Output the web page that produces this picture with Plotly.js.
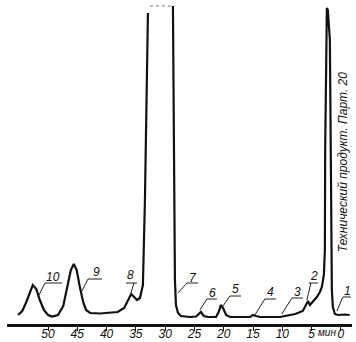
<!DOCTYPE html>
<html><head><meta charset="utf-8">
<script src="https://cdn.plot.ly/plotly-3.0.1.min.js"></script>
<style>html,body{margin:0;padding:0;background:#fff}#c{width:356px;height:342px}</style>
</head><body><div id="c"></div>
<script>
// retention time (min) and detector signal (arbitrary units)
const timeMin = [55.1,54.4,53.7,53.0,52.6,52.0,51.4,50.7,50.0,49.3,48.3,47.4,46.8,46.1,45.6,45.1,44.6,44.0,43.5,42.8,41.1,39.4,38.1,37.0,36.3,35.8,35.3,34.8,34.3,33.8,33.45,33.1,32.94,
  null,
  28.67,28.5,28.33,28.16,27.8,27.3,25.8,24.7,24.2,23.9,23.4,22.7,21.3,20.8,20.5,20.1,19.6,18.9,15.5,15.0,14.5,13.8,10.4,9.6,7.8,6.5,6.0,5.6,5.29,4.78,4.10,3.58,3.24,2.90,2.73,2.68,2.56,2.39,2.22,1.88,1.71,1.54,1.37,1.02,0.51,-0.7,-1.5];
const signal = [9,13,22,34,39,35,24,14,9,7.5,9,18,34,54,60,54,38,22,14,11,10.5,11,12,16,25,30,27,24,26,39,124,264,311,
  null,
  318,174,44,19,11,8,7,7.5,11,12,8,7,7,13,19,16,9,7,7,9,8,7,7,8,10,13,19,23,19,22,27,32,37,49,74,174,264,316,314,284,164,34,17,10,9,9.5,9];
// off-scale plateau of the main peak
const topTime = [32.6, 28.7];
const topSignal = [318, 318];

const tickVals = [50,45,40,35,30,25,20,15,10,5,0];
const tickText = ['50','45','40','35','30','25','20','15','10','5','0'];

// peak labels
const peakNames = ['10','9','8','7','6','5','4','3','2','1'];
const leadEndT  = [51.71,44.2,35.84,27.82,24.06,20.14,14.68,10.07,5.80,0.68];
const leadEndS  = [27,33,31,31,14,18,9,10,24,13];
const jointT    = [50.51,43.17,35.32,26.28,22.87,18.94,12.97,8.36,5.12,-0.34];
const jointS    = [41,45,41,41,25,28,25,26,41,27];
const ulLeftT   = [50.51,43.17,36.69,26.28,22.87,18.94,12.97,8.36,5.46,-0.34];
const ulRightT  = [47.61,40.78,34.81,24.4,21.16,17.06,11.09,6.48,3.92,-1.7];
const textT     = [49.15,41.8,35.84,25.26,21.84,17.92,11.95,7.34,4.61,-1.19];
const textS     = [47,52,49,46,31,35,32,32,48,33];

const sideTitle = 'Технический продукт. Парт. 20';
const unitLabel = 'мин';

const font = {family:'Liberation Sans, DejaVu Sans, sans-serif', style:'italic', color:'#111'};

const shapes = [];
const annotations = [];
for (let i=0;i<peakNames.length;i++){
  shapes.push({type:'path', xref:'x', yref:'y',
    path:`M${leadEndT[i]},${leadEndS[i]} L${jointT[i]},${jointS[i]}`,
    line:{color:'#222', width:1}});
  shapes.push({type:'line', xref:'x', yref:'y', x0:ulLeftT[i], x1:ulRightT[i], y0:jointS[i], y1:jointS[i],
    line:{color:'#222', width:1}});
  annotations.push({xref:'x', yref:'y', x:textT[i], y:textS[i], text:peakNames[i], showarrow:false,
    font:Object.assign({}, font, {size:12})});
}
annotations.push({xref:'x', yref:'paper', x:2.35, y:-0.028, yanchor:'middle', text:unitLabel, showarrow:false,
  font:Object.assign({}, font, {size:10})});
annotations.push({xref:'x', yref:'y', x:-0.4, y:162, text:sideTitle, textangle:-90, showarrow:false,
  font:Object.assign({}, font, {size:12})});

const traces = [
  {x:timeMin, y:signal, mode:'lines', line:{color:'#111', width:2.2}, hoverinfo:'skip', connectgaps:false},
  {x:topTime, y:topSignal, mode:'lines', line:{color:'#777', width:1, dash:'dot'}, hoverinfo:'skip'}
];

const layout = {
  width:356, height:342,
  margin:{l:7, r:4, t:4, b:18},
  paper_bgcolor:'#fff', plot_bgcolor:'#fff',
  showlegend:false,
  xaxis:{range:[57.0,-1.9], showgrid:false, zeroline:false, showline:true, linewidth:2.5, linecolor:'#111',
    ticks:'outside', ticklen:4, tickwidth:1, tickcolor:'#111', tickvals:tickVals, ticktext:tickText,
    ticklabelstandoff:-7,
    tickfont:Object.assign({}, font, {size:12}), fixedrange:true},
  yaxis:{range:[0,320], visible:false, fixedrange:true},
  shapes:shapes, annotations:annotations
};
Plotly.newPlot('c', traces, layout, {staticPlot:true, displayModeBar:false});
</script>
</body></html>
